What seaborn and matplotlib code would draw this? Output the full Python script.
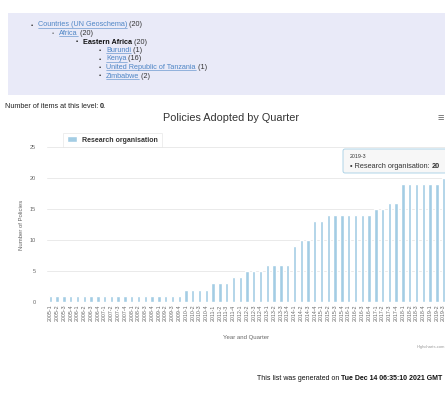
import seaborn as sns
import matplotlib.pyplot as plt
import pandas as pd
from matplotlib.patches import Rectangle, FancyBboxPatch, Patch
from matplotlib.lines import Line2D
from matplotlib.transforms import IdentityTransform

# data
years = range(2005, 2020)
quarters = [f"{y}-{q}" for y in years for q in range(1, 5)][:59]   # 2005-1 .. 2019-3
policies = [1, 1, 1, 1, 1, 1, 1, 1, 1, 1, 1, 1, 1, 1, 1, 1, 1, 1, 1, 1,
            2, 2, 2, 2, 3, 3, 3, 4, 4, 5, 5, 5, 6, 6, 6, 6,
            9, 10, 10, 13, 13, 14, 14, 14, 14, 14, 14, 14,
            15, 15, 16, 16, 19, 19, 19, 19, 19, 19, 20]
series_name = "Research organisation"

tree_labels = ["Countries (UN Geoschema)", "Africa", "Eastern Africa", "Burundi",
               "Kenya", "United Republic of Tanzania", "Zimbabwe"]
tree_counts = [20, 20, 20, 1, 16, 1, 2]
tree_levels = [0, 1, 2, 3, 3, 3, 3]
tree_bullets = ["•", "◦", "▪", "•"]

W, H = 445, 401
bar_color = "#a3cde4"
link_color = "#4f86c6"
grey = "#666666"

sns.set_style("white")
plt.rcParams["font.family"] = ["Liberation Sans", "DejaVu Sans"]

fig = plt.figure(figsize=(W / 100, H / 100), dpi=100)

# overlay in pixel coordinates for all the page text
over = fig.add_axes([0, 0, 1, 1])
over.set_xlim(0, W)
over.set_ylim(H, 0)
over.axis("off")

over.add_patch(Rectangle((8, 13), W, 82, facecolor="#e9eaf8", edgecolor="none"))

links = []
for i, (lab, cnt, lev) in enumerate(zip(tree_labels, tree_counts, tree_levels)):
    y = 25 + 8.5 * i
    bx = [32, 53, 77, 100][lev]
    over.text(bx, y, tree_bullets[lev], fontsize=4.5, color="#333333", va="center", ha="center")
    bold = lev == 2
    t = over.text(bx + 6, y, lab, fontsize=5.2, va="center",
                  color="#111111" if bold else link_color, fontweight="bold" if bold else "normal")
    if not bold:
        links.append(t)
    over.annotate(f" ({cnt})", xy=(1, 0), xycoords=t, va="bottom", ha="left",
                  fontsize=5.2, color="#333333")

t = over.text(5, 107, "Number of items at this level: ", fontsize=5.2, va="center", color="#222222")
over.annotate("0.", xy=(1, 0), xycoords=t, va="bottom", ha="left", fontsize=5.2, fontweight="bold")

over.text(231, 118, "Policies Adopted by Quarter", fontsize=7.8, ha="center", va="center", color="#333333")
over.text(441, 118, "≡", fontsize=8, ha="center", va="center", color=grey)
over.text(246, 338, "Year and Quarter", fontsize=4.3, ha="center", va="center", color=grey)
over.text(445, 347, "Highcharts.com", fontsize=3, ha="right", va="center", color="#999999")

t = over.text(257, 378, "This list was generated on ", fontsize=5, va="center", color="#111111")
over.annotate("Tue Dec 14 06:35:10 2021 GMT", xy=(1, 0), xycoords=t, va="bottom", ha="left",
              fontsize=5, fontweight="bold", color="#111111")

# chart
df = pd.DataFrame({"quarter": quarters, "policies": policies})
ax = fig.add_axes([47 / W, (H - 302) / H, 400 / W, 155 / H])
ax.patch.set_alpha(0)
sns.barplot(data=df, x="quarter", y="policies", color=bar_color, saturation=1, width=0.5, ax=ax)
ax.set_ylim(0, 25)
ax.set_yticks([0, 5, 10, 15, 20, 25])
ax.yaxis.grid(True, color="#e6e6e6", lw=0.6)
ax.set_axisbelow(True)
for s in ax.spines.values():
    s.set_visible(False)
ax.tick_params(axis="y", length=0, labelsize=4, labelcolor=grey, pad=8)
ax.tick_params(axis="x", length=0, labelsize=3.8, labelcolor=grey, rotation=90, pad=2)
ax.set_xlabel("")
ax.set_ylabel("Number of Policies", fontsize=4.3, color=grey, labelpad=4)

leg = fig.legend(handles=[Patch(facecolor=bar_color, label=series_name)],
                 loc="center left", bbox_to_anchor=(60 / W, 1 - 140 / H),
                 prop={"size": 5, "weight": "bold"}, handlelength=1.4, handleheight=0.9,
                 frameon=True, fancybox=False, borderpad=0.5)
leg.get_frame().set_edgecolor("#e2e2e2")
leg.get_frame().set_linewidth(0.5)
for txt in leg.get_texts():
    txt.set_color("#333333")

# tooltip on the last bar, in a top overlay
top = fig.add_axes([0, 0, 1, 1])
top.set_xlim(0, W)
top.set_ylim(H, 0)
top.axis("off")
top.add_patch(FancyBboxPatch((343, 149), 110, 24, boxstyle="round,pad=0,rounding_size=2",
                             facecolor="#f7f7f7", edgecolor=bar_color, lw=0.6))
top.text(350, 156, quarters[-1], fontsize=3.8, va="center", color="#333333")
t = top.text(350, 167, f"• {series_name}: ", fontsize=5.3, va="center", color="#333333")
top.annotate(str(policies[-1]), xy=(1, 0), xycoords=t, va="bottom", ha="left",
             fontsize=5.3, fontweight="bold", color="#333333")

# underline the links
fig.canvas.draw()
for t in links:
    bb = t.get_window_extent()
    fig.add_artist(Line2D([bb.x0, bb.x1], [bb.y0 + 1, bb.y0 + 1], transform=IdentityTransform(),
                          color=link_color, lw=0.4))

fig.savefig("out.png", dpi=100)
